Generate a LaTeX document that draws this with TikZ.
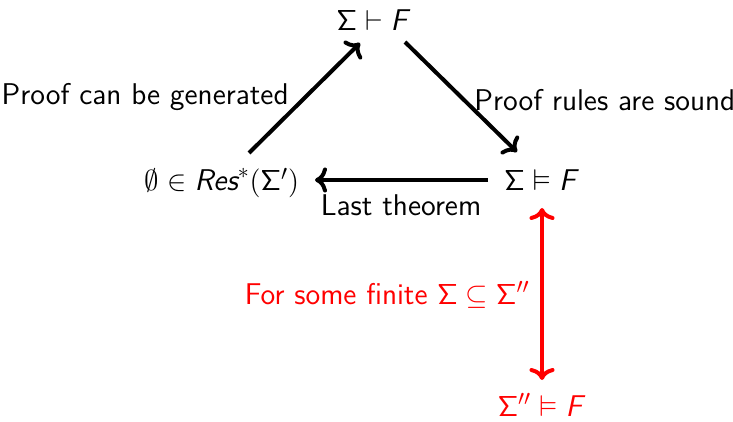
\documentclass[tikz,border=0pt]{standalone}
\usepackage{amsmath,amssymb}
\usetikzlibrary{arrows.meta,calc}
\newcommand\mi[1]{\textsf{\itshape #1}}
\newcommand\Sg{\mathsf{\Sigma}}
\begin{document}
\begin{tikzpicture}[x=0.5pt,y=-0.5pt,
  every node/.style={font=\fontsize{15}{18}\selectfont\sffamily, inner sep=1pt},
  arr/.style={line width=2pt,->},
  redarr/.style={line width=2pt,<->,red}]
\useasboundingbox (0,0) rectangle (733,422);
\node (a) at (372,20) {$\Sg\vdash\mi{F}$};
\node (b) at (222,183) {$\emptyset\in\mi{Res}^*(\Sg')$};
\node (c) at (540,180) {$\Sg\vDash\mi{F}$};
\node[red] (d) at (540,405) {$\Sg''\vDash\mi{F}$};
\draw[arr] ($(b)+(27,-30)$) -- ($(a)+(-12,23)$);
\draw[arr] ($(a)+(33,22)$) -- ($(c)+(-23,-28)$);
\draw[arr] ($(c)+(-52,0)$) -- ($(b)+(93,-3)$);
\draw[redarr] ($(c)+(2,28)$) -- ($(d)+(2,-25)$);
\node[anchor=east] (l1) at (291,97) {Proof can be generated};
\node[anchor=west] (l2) at (472,100) {Proof rules are sound};
\node (l3) at (401,205) {Last theorem};
\node[red,anchor=east] (l4) at (532,295) {For some finite $\Sg\subseteq\Sg''$};
\end{tikzpicture}
\end{document}
